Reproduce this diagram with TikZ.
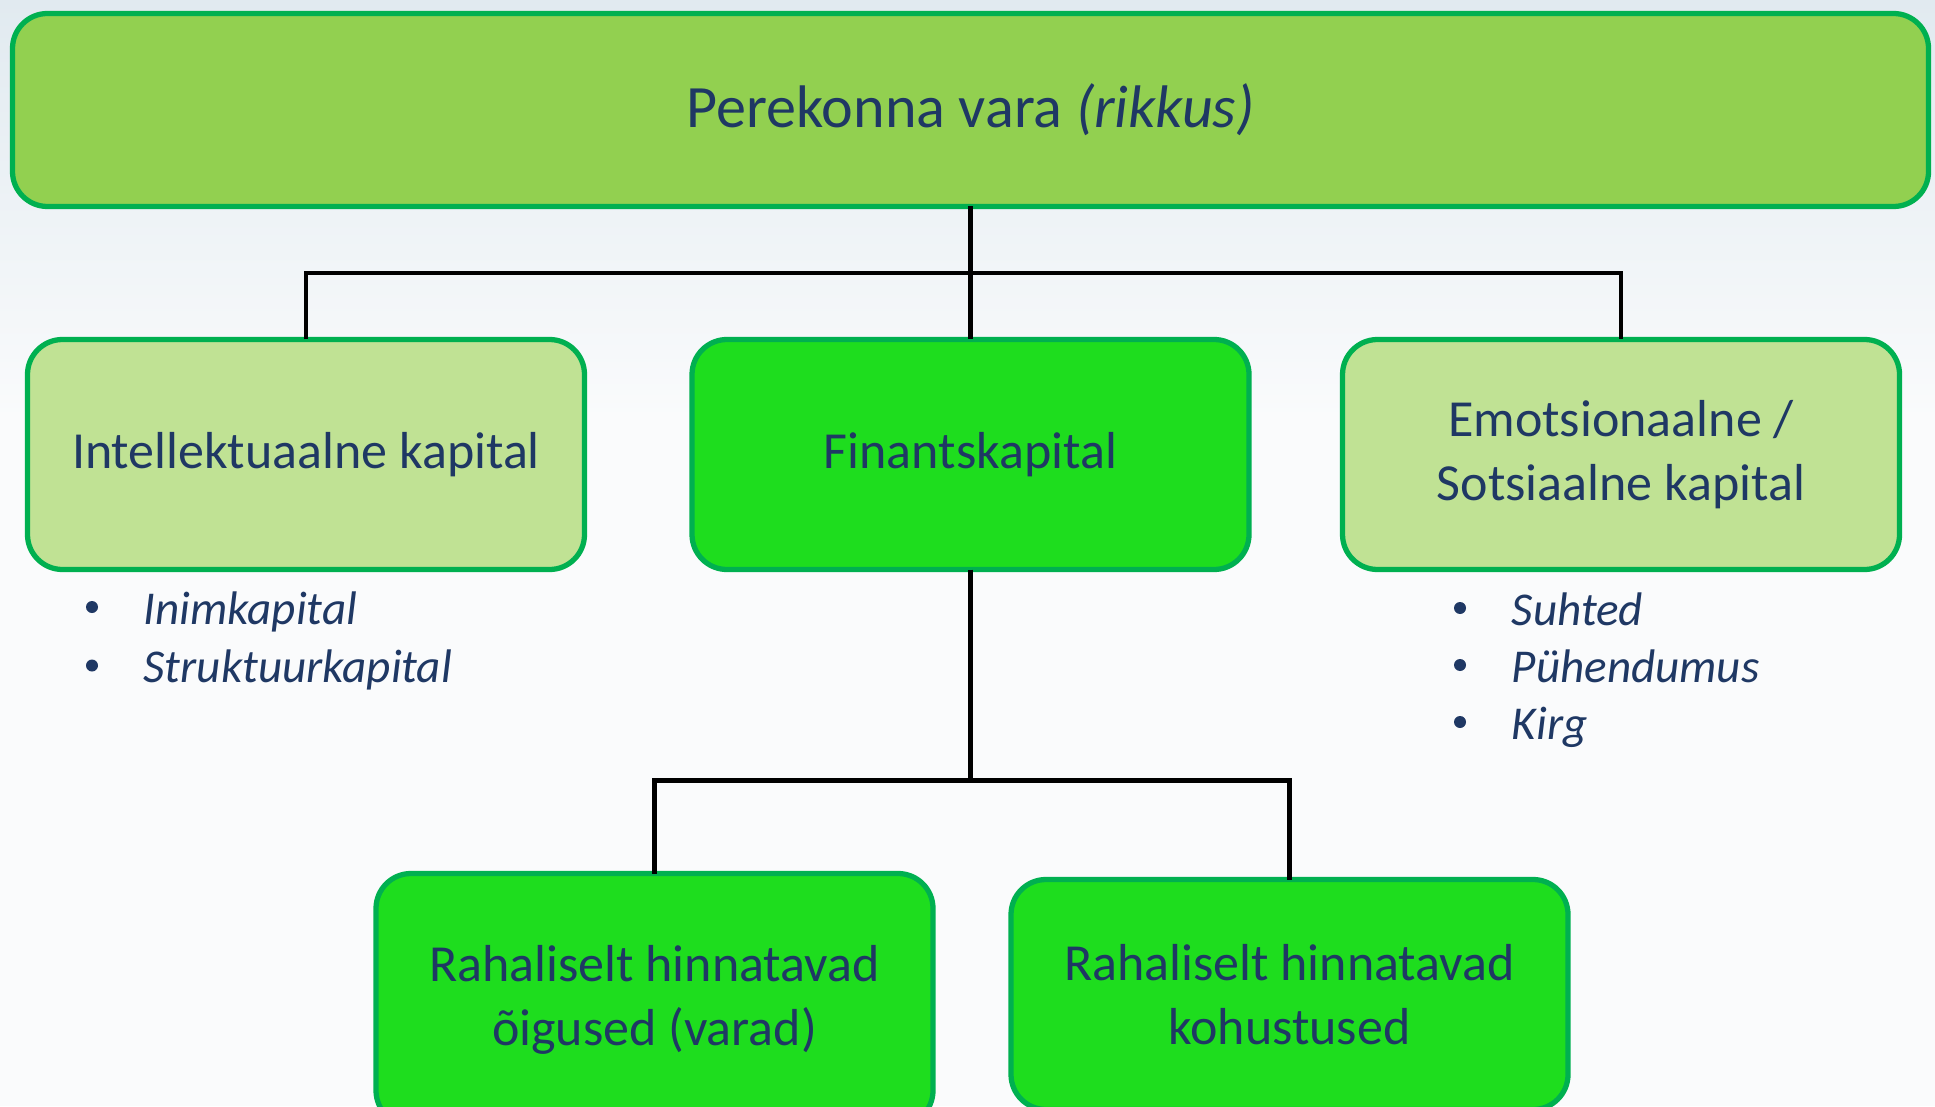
\documentclass[tikz,border=0pt]{standalone}
\usepackage{fontspec}
\setmainfont{Carlito}
\usetikzlibrary{calc}
\definecolor{ink}{HTML}{1F3864}
\definecolor{rim}{HTML}{00B050}
\definecolor{topfill}{HTML}{92D050}
\definecolor{softfill}{HTML}{C0E294}
\definecolor{brightfill}{HTML}{1EDD1E}
\definecolor{bgblue}{HTML}{E1EAF0}
\definecolor{bgpale}{HTML}{FAFBFC}
\tikzset{
  box/.style={draw=rim, line width=1.5pt, rounded corners=0.35cm, text=ink, align=center,
    inner sep=0pt, outer sep=0pt, font=\fontsize{14.8}{18.2}\selectfont},
  rootbox/.style={box, fill=topfill, minimum width=19.16cm, minimum height=1.93cm,
    font=\fontsize{17.1}{21}\selectfont},
  softbox/.style={box, fill=softfill, minimum width=5.57cm, minimum height=2.30cm},
  brightbox/.style={box, fill=brightfill, minimum width=5.57cm, minimum height=2.30cm},
  conn/.style={draw=black, line width=1.35pt},
  dot/.style={circle, fill=ink, inner sep=0pt, minimum size=0.12cm},
  item/.style={text=ink, anchor=base west, inner sep=0pt,
    font=\fontsize{13.4}{16}\selectfont\itshape}
}

\begin{document}
\begin{tikzpicture}
  \useasboundingbox (0,0) rectangle (19.35,-11.06);
  \fill[bgpale] (0,0) rectangle (19.35,-11.06);
  \shade[top color=bgblue, bottom color=bgpale] (0,0) rectangle (19.35,-4.2);

  % boxes
  \node[rootbox]   (vara)  at (9.705,-1.10)  {Perekonna vara \textit{(rikkus)}};
  \node[softbox]   (intel) at (3.06,-4.545)  {Intellektuaalne kapital};
  \node[brightbox] (finkap) at (9.705,-4.545) {Finantskapital};
  \node[softbox]   (emo)   at (16.21,-4.545) {Emotsionaalne /\\Sotsiaalne kapital};
  \node[brightbox, minimum height=2.52cm] (oigus) at (6.545,-9.995) {Rahaliselt hinnatavad\\õigused (varad)};
  \node[brightbox] (kohus) at (12.895,-9.945) {Rahaliselt hinnatavad\\kohustused};

  % connectors
  \coordinate (bus) at ($(vara.south)!0.5!(finkap.north)$);
  \coordinate (split) at ($(finkap.south)+(0,-2.11)$);
  \draw[conn] (vara.south) -- (finkap.north);
  \draw[conn] (intel.north) |- (bus) -| (emo.north);
  \draw[conn] (finkap.south) -- (split);
  \draw[conn] (oigus.north) |- (split) -| (kohus.north);

  % bullet lists
  \foreach \t [count=\i] in {Inimkapital, Struktuurkapital} {
    \node[dot] (idot\i) at (0.92,-6.07-0.585*\i+0.585) {};
    \node[item] (itxt\i) at (1.43,-6.24-0.585*\i+0.585) {\t};
  }
  \foreach \t [count=\i] in {Suhted, Pühendumus, Kirg} {
    \node[dot] (edot\i) at (14.60,-6.08-0.57*\i+0.57) {};
    \node[item] (etxt\i) at (15.11,-6.25-0.57*\i+0.57) {\t};
  }
\end{tikzpicture}
\end{document}
